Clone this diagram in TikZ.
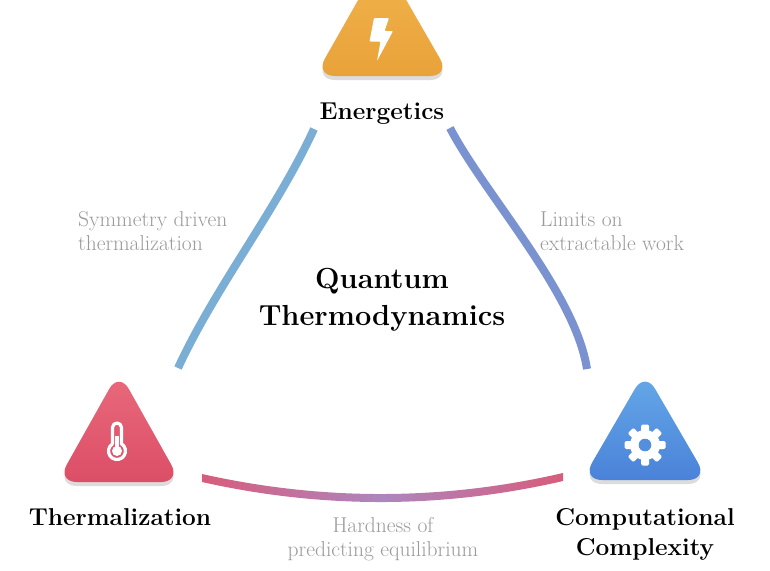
\documentclass[tikz,border=0pt]{standalone}
\usepackage{tikz}
\definecolor{orTop}{HTML}{F2B44C}
\definecolor{orBot}{HTML}{E9A23A}
\definecolor{rdTop}{HTML}{E96A7C}
\definecolor{rdBot}{HTML}{DC4E67}
\definecolor{blTop}{HTML}{66A9E8}
\definecolor{blBot}{HTML}{4A82D9}
\definecolor{blMid}{HTML}{548FDE}
\definecolor{lnLeft}{HTML}{7BAED5}
\definecolor{lnRight}{HTML}{7A92CF}
\definecolor{lnEnd}{HTML}{D85C7C}
\definecolor{lnMid}{HTML}{AC86BE}
\definecolor{lbl}{HTML}{9A9A9A}
\definecolor{shad}{HTML}{DCDCDC}
\tikzset{
  conn/.style={line width=8pt, line cap=butt},
  title/.style={font=\fontsize{24.4}{30}\selectfont\bfseries, inner sep=0pt},
  center/.style={font=\fontsize{29}{37}\selectfont\bfseries, align=center, inner sep=0pt},
  edgelbl/.style={font=\fontsize{21.5}{24}\selectfont, text=lbl, inner sep=0pt},
  tri/.style={rounded corners=20pt},
}
\begin{document}
\begin{tikzpicture}[x=1pt,y=-1pt]
\useasboundingbox (0,0) rectangle (770,570);
\fill[white] (0,0) rectangle (770,570);

% ---------- Energetics triangle
\fill[shad, tri] (315,80) -- (382,-38) -- (450,80) -- cycle;
\shade[top color=orTop, bottom color=orBot, tri] (315,76) -- (382,-42) -- (450,76) -- cycle;
\fill[white, rounded corners=1pt] (374,18) -- (389,18) -- (384.5,31) -- (393,31) -- (377,61) -- (380.5,41.5) -- (369.5,41.5) -- cycle;

% ---------- Thermalization triangle
\fill[shad, tri] (57,486) -- (119,375.5) -- (181,486) -- cycle;
\shade[top color=rdTop, bottom color=rdBot, tri] (57,482) -- (119,371.5) -- (181,482) -- cycle;
\draw[white, line width=3.2pt, line join=round] (112.5,443.8) -- (112.5,427.5) arc[start angle=180,end angle=360,radius=4.5] -- (121.5,443.8) arc[start angle=-58,end angle=238,radius=8.5] -- cycle;
\fill[white] (115.2,436) rectangle (118.8,449);
\fill[white] (117,451) circle (5);

% ---------- Computational complexity triangle
\fill[shad, tri] (582,484) -- (645,375.5) -- (708,484) -- cycle;
\shade[top color=blTop, bottom color=blBot, tri] (582,480) -- (645,371.5) -- (708,480) -- cycle;
\fill[white] (645,445) circle (15);
\foreach \a in {0,45,...,315}
  \fill[white, rotate around={\a:(645,445)}, rounded corners=1.5pt] (641,424.5) rectangle (649,436);
\fill[blMid] (645,445) circle (6.3);

% ---------- connectors
\coordinate (l0) at (178,368);
\coordinate (l1) at (314,129);
\draw[conn, lnLeft] (l0) .. controls (216,286) and (276,211) .. (l1);
\coordinate (r0) at (450,128);
\coordinate (r1) at (587,369);
\draw[conn, lnRight] (r0) .. controls (485,195) and (575,292) .. (r1);
\shade[left color=lnEnd, right color=lnEnd, middle color=lnMid]
  (202,474) .. controls (322.7,501) and (443,500.7) .. (563,473) -- (563,481)
  .. controls (443,508.7) and (322.7,509) .. (202,482) -- cycle;

% ---------- texts
\node[title, anchor=base] (en) at (382,119) {Energetics};
\node[title, anchor=base] (th) at (120,525) {Thermalization};
\node[title, align=center] (cc) at (645,534) {Computational\\Complexity};
\node[center] (qt) at (382,300) {Quantum\\Thermodynamics};
\node[edgelbl, align=left, anchor=west] (sy) at (78,231) {Symmetry driven\\thermalization};
\node[edgelbl, align=left, anchor=west] (li) at (540,231) {Limits on\\extractable work};
\node[edgelbl, align=center] (ha) at (383,539) {Hardness of\\predicting equilibrium};
\end{tikzpicture}
\end{document}
